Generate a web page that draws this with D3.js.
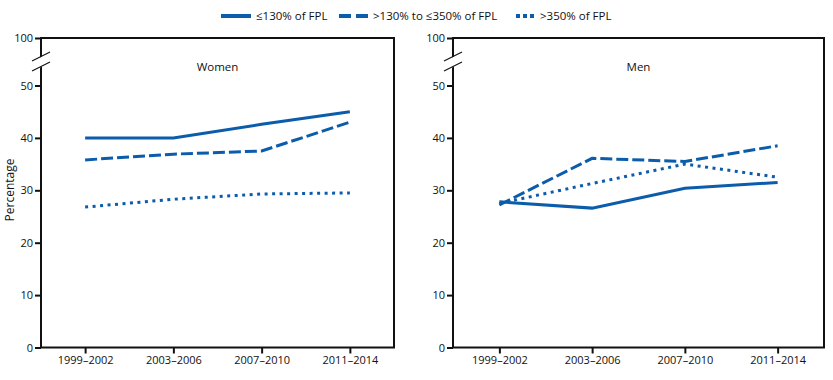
<!DOCTYPE html>
<html>
<head>
<meta charset="utf-8">
<script src="https://cdn.jsdelivr.net/npm/d3@7"></script>
<style>
  body { margin: 0; background: #fff; }
  text { font-family: "Open Sans", "Noto Sans", sans-serif; fill: #111; }
</style>
</head>
<body>
<script>
const periods = ["1999–2002", "2003–2006", "2007–2010", "2011–2014"];
const seriesNames = ["≤130% of FPL", ">130% to ≤350% of FPL", ">350% of FPL"];
const womenLow = [40.0, 40.0, 42.6, 45.0];
const womenMid = [35.8, 36.9, 37.5, 43.0];
const womenHigh = [26.8, 28.3, 29.3, 29.5];
const menLow = [27.8, 26.6, 30.4, 31.5];
const menMid = [27.2, 36.1, 35.5, 38.5];
const menHigh = [27.5, 31.3, 35.0, 32.5];
const yTicks = [0, 10, 20, 30, 40, 50, 100];

const width = 833, height = 380;
const blue = "#0b5dab";
const dashes = [null, "12,4", "3,4.5"];

const svg = d3.select("body").append("svg")
    .attr("width", width)
    .attr("height", height);

const panels = [
  {title: "Women", left: 41, right: 394, data: [womenLow, womenMid, womenHigh]},
  {title: "Men", left: 453, right: 824, data: [menLow, menMid, menHigh]}
];

const plotTop = 38, plotBottom = 347.5;
// broken axis: 0-50 normal, 50-100 squeezed
const y = d3.scaleLinear().domain([0, 50, 100]).range([plotBottom, 85.5, plotTop]);

panels.forEach(p => {
  const x = d3.scalePoint().domain(periods).range([p.left, p.right]).padding(0.5);
  const g = svg.append("g");

  // frame
  g.append("rect")
      .attr("x", p.left).attr("y", plotTop)
      .attr("width", p.right - p.left).attr("height", plotBottom - plotTop)
      .attr("fill", "none").attr("stroke", "#111").attr("stroke-width", 2);

  // y axis
  const ya = g.append("g")
      .attr("transform", `translate(${p.left},0)`)
      .call(d3.axisLeft(y).tickValues(yTicks).tickSize(6).tickPadding(2).tickFormat(d3.format("d")));
  ya.select(".domain").remove();
  ya.selectAll(".tick line").attr("stroke", "#111").attr("stroke-width", 2);
  ya.selectAll(".tick text").attr("font-size", 11).attr("fill", "#111")
      .attr("font-family", "'Open Sans', sans-serif");

  // x axis
  const xa = g.append("g")
      .attr("transform", `translate(0,${plotBottom})`)
      .call(d3.axisBottom(x).tickSize(6).tickPadding(3));
  xa.select(".domain").remove();
  xa.selectAll(".tick line").attr("stroke", "#111").attr("stroke-width", 2);
  xa.selectAll(".tick text").attr("font-size", 11).attr("fill", "#111")
      .attr("font-family", "'Open Sans', sans-serif");

  // axis break marks
  const bx = p.left;
  g.append("path")
      .attr("d", `M${bx - 9},${62} L${bx + 9},${52} L${bx + 9},${62} L${bx - 9},${72} Z`)
      .attr("fill", "#fff");
  [0, 10].forEach(o => {
    g.append("line")
        .attr("x1", bx - 9).attr("y1", 61 + o)
        .attr("x2", bx + 9).attr("y2", 52 + o)
        .attr("stroke", "#111").attr("stroke-width", 1.2);
  });

  g.append("text")
      .attr("x", (p.left + p.right) / 2)
      .attr("y", 71)
      .attr("text-anchor", "middle")
      .attr("font-size", 11.5)
      .text(p.title);

  const line = d3.line()
      .x((d, i) => x(periods[i]))
      .y(d => y(d));

  p.data.forEach((vals, k) => {
    g.append("path")
        .datum(vals)
        .attr("fill", "none")
        .attr("stroke", blue)
        .attr("stroke-width", 3)
        .attr("stroke-dasharray", dashes[k])
        .attr("d", line);
  });
});

// y label
svg.append("text")
    .attr("transform", "translate(14,190) rotate(-90)")
    .attr("text-anchor", "middle")
    .attr("font-size", 12)
    .text("Percentage");

// legend
const legendItems = [
  {x: 221, w: 30, text: seriesNames[0]},
  {x: 339, w: 29, text: seriesNames[1]},
  {x: 516, w: 19, text: seriesNames[2]}
];
const lg = svg.append("g");
legendItems.forEach((d, k) => {
  lg.append("line")
      .attr("x1", d.x).attr("x2", d.x + d.w)
      .attr("y1", 16).attr("y2", 16)
      .attr("stroke", blue).attr("stroke-width", 4)
      .attr("stroke-dasharray", k === 1 ? "12,5" : k === 2 ? "4,3" : null);
  lg.append("text")
      .attr("x", d.x + d.w + 5)
      .attr("y", 20)
      .attr("font-size", 11.5)
      .text(d.text);
});
</script>
</body>
</html>
